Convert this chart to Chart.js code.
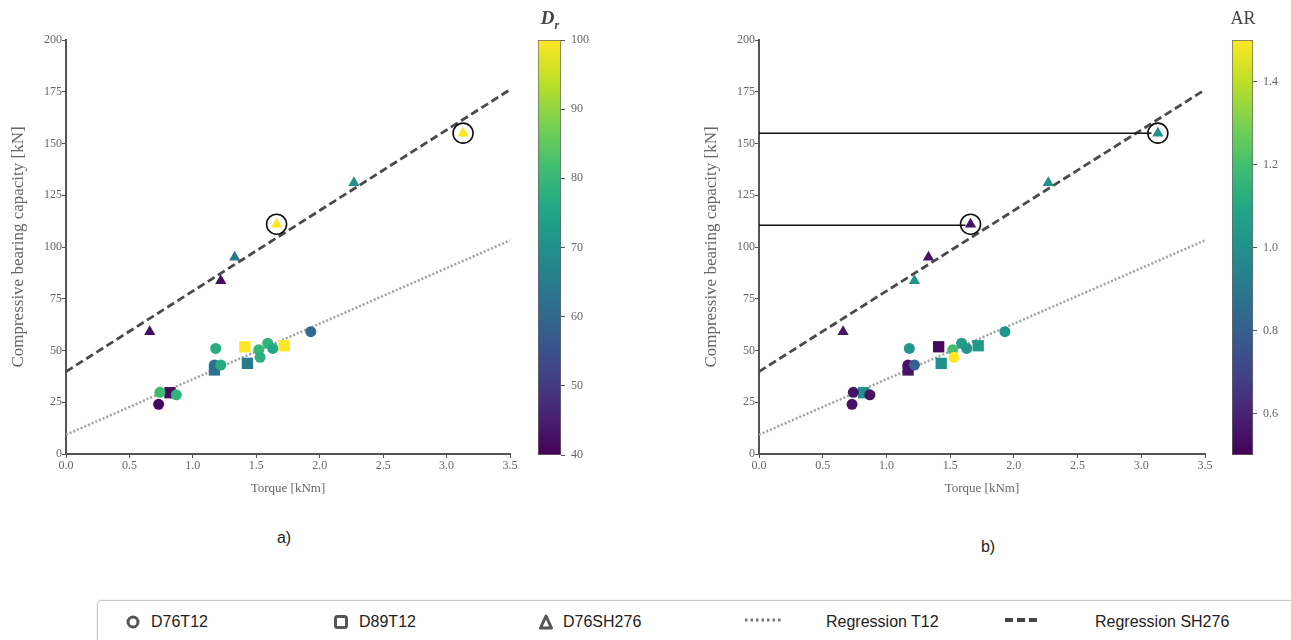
<!DOCTYPE html>
<html>
<head>
<meta charset="utf-8">
<script src="https://cdn.jsdelivr.net/npm/chart.js@4.4.1/dist/chart.umd.min.js"></script>
<style>
  body { margin: 0; background: #fff; width: 1291px; height: 640px; position: relative; overflow: hidden; font-family: "Liberation Sans", Arial, sans-serif; }
  canvas { position: absolute; }
  .cbtitle { position: absolute; font-family: "Liberation Serif", serif; color: #444; transform: translateX(-50%); }
  .caption { position: absolute; font-size: 16px; color: #222; transform: translate(-50%, -50%); }
  #legend { position: absolute; left: 97px; top: 600px; width: 1220px; height: 42px; border: 1px solid #c8c8c8; border-radius: 4px; box-shadow: 0 0 2px #ddd; }
  .item { position: absolute; top: 11px; font-size: 16px; color: #222; line-height: 20px; }
  .icon { position: absolute; }
</style>
</head>
<body>

<canvas id="chartA" width="530" height="500" style="left:0;top:0"></canvas>
<canvas id="barA" width="60" height="470" style="left:538px;top:0"></canvas>
<canvas id="chartB" width="532" height="500" style="left:693px;top:0"></canvas>
<canvas id="barB" width="58" height="470" style="left:1232px;top:0"></canvas>

<div class="cbtitle" style="left:550px;top:7px;font-size:19px;font-style:italic;font-weight:bold">D<sub style="font-size:12px">r</sub></div>
<div class="cbtitle" style="left:1243px;top:8px;font-size:18px">AR</div>

<div class="caption" style="left:284px;top:538px">a)</div>
<div class="caption" style="left:988px;top:547px">b)</div>

<div id="legend">
  <svg class="icon" style="left:27px;top:13px" width="16" height="16"><circle cx="8" cy="8" r="5" fill="none" stroke="#555" stroke-width="3"/></svg>
  <div class="item" style="left:53px">D76T12</div>
  <svg class="icon" style="left:235px;top:13px" width="16" height="16"><rect x="2.5" y="2.5" width="11" height="11" rx="2" fill="none" stroke="#555" stroke-width="3"/></svg>
  <div class="item" style="left:261px">D89T12</div>
  <svg class="icon" style="left:440px;top:12px" width="16" height="18"><polygon points="8,3 13.5,15 2.5,15" fill="none" stroke="#555" stroke-width="3" stroke-linejoin="round"/></svg>
  <div class="item" style="left:465px">D76SH276</div>
  <svg class="icon" style="left:645px;top:14px" width="40" height="10"><line x1="2" y1="5" x2="38" y2="5" stroke="#777" stroke-width="3" stroke-dasharray="2.5,3"/></svg>
  <div class="item" style="left:728px">Regression T12</div>
  <svg class="icon" style="left:905px;top:14px" width="40" height="10"><line x1="2" y1="5" x2="38" y2="5" stroke="#444" stroke-width="4" stroke-dasharray="8,4"/></svg>
  <div class="item" style="left:997px">Regression SH276</div>
</div>

<script>
// regression lines
const regTorque = [0, 3.5];
const regT12 = [9.3, 103.2];
const regSH276 = [39.8, 176];

// D76T12 (circles)
const circleTorque = [0.73, 0.74, 0.87, 1.18, 1.17, 1.22, 1.52, 1.53, 1.59, 1.63, 1.93];
const circleLoad   = [24.0, 29.8, 28.6, 51.0, 43.0, 43.0, 50.4, 46.7, 53.5, 51.0, 59.1];
const circleDr     = [41, 81, 79, 77, 62, 77, 80, 78, 79, 76, 61];
const circleAR     = [0.55, 0.55, 0.55, 1.02, 0.55, 0.8, 1.2, 1.5, 1.05, 1.02, 1.02];

// D89T12 (squares)
const squareTorque = [0.82, 1.17, 1.41, 1.43, 1.72];
const squareLoad   = [29.6, 40.6, 51.8, 43.8, 52.3];
const squareDr     = [42, 62, 100, 65, 100];
const squareAR     = [1.0, 0.55, 0.52, 1.0, 1.02];

// D76SH276 (triangles)
const triTorque = [0.66, 1.22, 1.33, 1.66, 2.27, 3.13];
const triLoad   = [59.0, 83.7, 95.0, 111.0, 131.0, 155.0];
const triDr     = [42, 42, 64, 100, 70, 100];
const triAR     = [0.55, 1.0, 0.55, 0.55, 1.0, 1.0];

// circled points
const ringTorque = [1.66, 3.13];
const ringLoad = [111.0, 155.0];

// horizontal reference lines in b)
const refLoad = [155.0, 110.5];
const refEndTorque = [3.08, 1.62];

const xTicks = [0, 0.5, 1.0, 1.5, 2.0, 2.5, 3.0, 3.5];
const yTicks = [0, 25, 50, 75, 100, 125, 150, 175, 200];
const drTicks = [40, 50, 60, 70, 80, 90, 100];
const arTicks = [0.6, 0.8, 1.0, 1.2, 1.4];

const viridis = ['#440154', '#482475', '#414487', '#355f8d', '#2a788e', '#21918c',
                 '#22a884', '#44bf70', '#7ad151', '#bddf26', '#fde725'];

function hexToRgb(h) {
  return [parseInt(h.slice(1, 3), 16), parseInt(h.slice(3, 5), 16), parseInt(h.slice(5, 7), 16)];
}

function viridisColor(v, min, max) {
  let t = (v - min) / (max - min);
  t = Math.max(0, Math.min(1, t)) * (viridis.length - 1);
  const i = Math.min(Math.floor(t), viridis.length - 2);
  const f = t - i;
  const a = hexToRgb(viridis[i]), b = hexToRgb(viridis[i + 1]);
  const c = a.map((x, k) => Math.round(x + (b[k] - x) * f));
  return `rgb(${c[0]},${c[1]},${c[2]})`;
}

const zip = (xs, ys) => xs.map((x, i) => ({ x: x, y: ys[i] }));

const serif = '"Liberation Serif", "Times New Roman", serif';

function scatterChart(id, key, cmin, cmax, withRefLines) {
  const pick = { Dr: [circleDr, squareDr, triDr], AR: [circleAR, squareAR, triAR] }[key];
  const datasets = [
    {
      data: zip(ringTorque, ringLoad), pointStyle: 'circle', pointRadius: 10,
      backgroundColor: 'rgba(0,0,0,0)', borderColor: '#111', borderWidth: 1.6, order: 0
    },
    {
      data: zip(circleTorque, circleLoad), pointStyle: 'circle', pointRadius: 5.5,
      backgroundColor: pick[0].map(v => viridisColor(v, cmin, cmax)), borderWidth: 0, order: 1
    },
    {
      data: zip(squareTorque, squareLoad), pointStyle: 'rect', pointRadius: 8,
      backgroundColor: pick[1].map(v => viridisColor(v, cmin, cmax)), borderWidth: 0, order: 1
    },
    {
      data: zip(triTorque, triLoad), pointStyle: 'triangle', pointRadius: 6.5,
      backgroundColor: pick[2].map(v => viridisColor(v, cmin, cmax)), borderWidth: 0, order: 1
    },
    {
      data: zip(regTorque, regT12), showLine: true, pointRadius: 0,
      borderColor: '#a0a0a0', borderWidth: 2.5, borderDash: [2, 2], order: 3
    },
    {
      data: zip(regTorque, regSH276), showLine: true, pointRadius: 0,
      borderColor: '#4a4a4a', borderWidth: 2.8, borderDash: [8, 4], order: 3
    }
  ];
  if (withRefLines) {
    refLoad.forEach((y, i) => {
      datasets.push({
        data: [{ x: 0, y: y }, { x: refEndTorque[i], y: y }], showLine: true, pointRadius: 0,
        borderColor: '#111', borderWidth: 1.5, order: 2
      });
    });
  }

  return new Chart(document.getElementById(id), {
    type: 'scatter',
    data: { datasets: datasets },
    options: {
      responsive: false,
      animation: false,
      layout: { padding: { top: 40, right: 20, left: 0, bottom: 0 } },
      plugins: { legend: { display: false }, tooltip: { enabled: false } },
      scales: {
        x: {
          type: 'linear', min: 0, max: 3.5,
          afterFit: s => { s.height = 46; },
          afterBuildTicks: s => { s.ticks = xTicks.map(v => ({ value: v })); },
          ticks: { font: { family: serif, size: 12 }, color: '#666', padding: 1, maxRotation: 0,
                   callback: v => v.toFixed(1) },
          grid: { drawOnChartArea: false, tickLength: 4, color: '#555' },
          border: { color: '#555', width: 2, dash: [4, 3] },
          title: { display: true, text: 'Torque [kNm]', font: { family: serif, size: 13 },
                   color: '#666', padding: { top: 0, bottom: 4 } }
        },
        y: {
          min: 0, max: 200,
          afterFit: s => { s.width = 66; },
          afterBuildTicks: s => { s.ticks = yTicks.map(v => ({ value: v })); },
          ticks: { font: { family: serif, size: 12 }, color: '#666', padding: 0 },
          grid: { drawOnChartArea: false, tickLength: 4, color: '#555' },
          border: { color: '#555', width: 2, dash: [4, 3] },
          title: { display: true, text: 'Compressive bearing capacity [kN]',
                   font: { family: serif, size: 17 }, color: '#666', padding: { top: 8, bottom: 0 } }
        }
      }
    }
  });
}

function colorBar(id, min, max, ticks, decimals) {
  return new Chart(document.getElementById(id), {
    type: 'bar',
    data: {
      labels: [''],
      datasets: [{
        data: [[min, max]],
        barPercentage: 1, categoryPercentage: 1,
        borderColor: '#666', borderWidth: 1, borderSkipped: false,
        backgroundColor: ctx => {
          const area = ctx.chart.chartArea;
          if (!area) return viridis[5];
          const g = ctx.chart.ctx.createLinearGradient(0, area.bottom, 0, area.top);
          viridis.forEach((c, i) => g.addColorStop(i / (viridis.length - 1), c));
          return g;
        }
      }]
    },
    options: {
      responsive: false,
      animation: false,
      layout: { padding: { top: 40, bottom: 15, left: 0, right: 0 } },
      plugins: { legend: { display: false }, tooltip: { enabled: false } },
      scales: {
        x: { display: false },
        y: {
          position: 'right', min: min, max: max,
          afterFit: s => { s.width = 37; },
          afterBuildTicks: s => { s.ticks = ticks.map(v => ({ value: v })); },
          ticks: { font: { family: serif, size: 12 }, color: '#666', padding: 6,
                   callback: v => v.toFixed(decimals) },
          grid: { drawOnChartArea: false, tickLength: 4, color: '#555' },
          border: { display: false }
        }
      }
    }
  });
}

scatterChart('chartA', 'Dr', 40, 100, false);
scatterChart('chartB', 'AR', 0.5, 1.5, true);
colorBar('barA', 40, 100, drTicks, 0);
colorBar('barB', 0.5, 1.5, arTicks, 1);
</script>
</body>
</html>
